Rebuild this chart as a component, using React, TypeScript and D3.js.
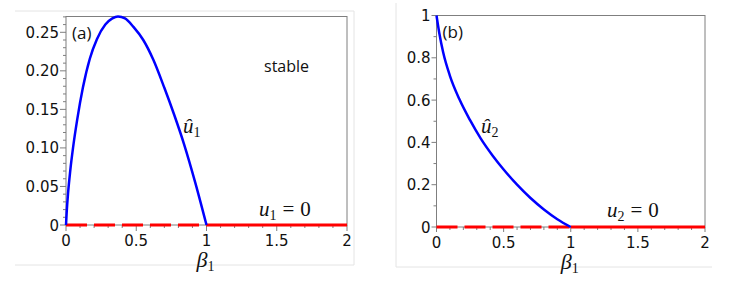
import * as d3 from "d3";

// beta_1 axis
const betaTicks = [0, 0.5, 1, 1.5, 2];

// panel (a): u1 axis ticks and the non-trivial branch u^_1(beta_1)
const u1Ticks = [0, 0.05, 0.1, 0.15, 0.2, 0.25];
const u1TickLabels = ["0", "0.05", "0.10", "0.15", "0.20", "0.25"];
const u1HatBeta = [0, 0.005, 0.015, 0.03, 0.05, 0.08, 0.12, 0.17, 0.22, 0.28, 0.33, 0.37, 0.42, 0.48, 0.55, 0.62, 0.7, 0.77, 0.84, 0.92, 1.0];
const u1HatVal = [0, 0.017, 0.042, 0.07, 0.1, 0.137, 0.178, 0.216, 0.241, 0.26, 0.268, 0.2705, 0.268, 0.257, 0.24, 0.215, 0.178, 0.143, 0.105, 0.055, 0];

// panel (b): u2 axis ticks and the branch u^_2(beta_1)
const u2Ticks = [0, 0.2, 0.4, 0.6, 0.8, 1];
const u2TickLabels = ["0", "0.2", "0.4", "0.6", "0.8", "1"];
const u2HatBeta = [0, 0.02, 0.05, 0.1, 0.17, 0.25, 0.33, 0.42, 0.5, 0.6, 0.7, 0.8, 0.9, 1.0];
const u2HatVal = [1, 0.92, 0.825, 0.715, 0.605, 0.505, 0.418, 0.336, 0.272, 0.2, 0.137, 0.083, 0.037, 0];

// trivial branch u = 0: unstable (dashed) up to 1, stable after
const unstableBeta = [0, 1];
const stableBeta = [1, 2];

type Pt = [number, number];

interface PanelProps {
  left: number;
  right: number;
  top: number;
  bottom: number;
  yMax: number;
  yTicks: number[];
  yLabels: string[];
  yMinor: number;
  hatBeta: number[];
  hatVal: number[];
  tag: string;
  idx: string;
  hatPos: Pt;
  zeroPos: Pt;
  tickLen: number;
}

const mathFont = "'Liberation Serif', 'DejaVu Serif', serif";
const tickFont = "'DejaVu Sans', sans-serif";
const noteFont = "'Open Sans', 'DejaVu Sans', sans-serif";

function Panel(p: PanelProps) {
  const x = d3.scaleLinear().domain([0, 2]).range([p.left, p.right]);
  const y = d3.scaleLinear().domain([0, p.yMax]).range([p.bottom, p.top]);
  const line = d3
    .line<Pt>()
    .x((d) => x(d[0]))
    .y((d) => y(d[1]))
    .curve(d3.curveMonotoneX);
  const hat: Pt[] = p.hatBeta.map((b, i) => [b, p.hatVal[i]]);
  const flat = (bs: number[]) => line(bs.map((b) => [b, 0] as Pt)) || "";

  const xMinor = d3.range(0, 2.0001, 0.1).filter((v) => !betaTicks.some((t) => Math.abs(t - v) < 1e-6));
  const yMinor = d3
    .range(0, p.yMax + 1e-9, p.yMinor)
    .filter((v) => !p.yTicks.some((t) => Math.abs(t - v) < 1e-6));
  const axisCol = "#7f7f7f";
  const cx = (p.left + p.right) / 2;

  return (
    <g>
      <rect x={p.left} y={p.top} width={p.right - p.left} height={p.bottom - p.top} fill="none" stroke={axisCol} strokeWidth={1} />
      {/* y ticks */}
      {p.yTicks.map((t, i) => (
        <g key={"y" + i}>
          <line x1={p.left - p.tickLen} x2={p.left} y1={y(t)} y2={y(t)} stroke={axisCol} />
          <text x={p.left - p.tickLen - 1} y={y(t) + 5.5} textAnchor="end" fontFamily={tickFont} fontSize={15} fill="#111">
            {p.yLabels[i]}
          </text>
        </g>
      ))}
      {yMinor.map((t, i) => (
        <line key={"ym" + i} x1={p.left - 3} x2={p.left} y1={y(t)} y2={y(t)} stroke={axisCol} />
      ))}
      {/* x ticks */}
      {betaTicks.map((t, i) => (
        <g key={"x" + i}>
          <line x1={x(t)} x2={x(t)} y1={p.bottom} y2={p.bottom + p.tickLen} stroke={axisCol} />
          <text x={x(t)} y={p.bottom + 20.5} textAnchor="middle" fontFamily={tickFont} fontSize={15} fill="#111">
            {String(t)}
          </text>
        </g>
      ))}
      {xMinor.map((t, i) => (
        <line key={"xm" + i} x1={x(t)} x2={x(t)} y1={p.bottom} y2={p.bottom + 3} stroke={axisCol} />
      ))}
      {/* curves */}
      <path d={flat(unstableBeta)} fill="none" stroke="#ff0000" strokeWidth={3} strokeDasharray="21 7" />
      <path d={flat(stableBeta)} fill="none" stroke="#ff0000" strokeWidth={3} />
      <path d={line(hat) || ""} fill="none" stroke="#0000ff" strokeWidth={2.5} />
      {/* labels */}
      <text x={p.left + 6} y={p.top + 22} fontFamily={noteFont} fontSize={17} fill="#111">
        {p.tag}
      </text>
      <text x={p.hatPos[0]} y={p.hatPos[1]} fontFamily={mathFont} fontStyle="italic" fontSize={21} fill="#111">
        {"\u00fb"}
        <tspan fontStyle="normal" fontSize={14} dy={4}>{p.idx}</tspan>
      </text>
      <text x={p.zeroPos[0]} y={p.zeroPos[1]} fontFamily={mathFont} fontSize={21} fill="#111">
        <tspan fontStyle="italic">u</tspan>
        <tspan fontSize={14} dy={4}>{p.idx}</tspan>
        <tspan dy={-4} dx={6}>=</tspan>
        <tspan dx={6}>0</tspan>
      </text>
      <text x={cx - 10} y={p.bottom + 42} fontFamily={mathFont} fontSize={22} fill="#111">
        <tspan fontStyle="italic">{"\u03b2"}</tspan>
        <tspan fontSize={14} dy={4}>1</tspan>
      </text>
    </g>
  );
}

export default function App() {
  return (
    <svg width={736} height={282} style={{ position: "absolute", left: 0, top: 0, background: "#fff" }}>
      <rect width={736} height={282} fill="#fff" />
      {/* faint outlines of the two figure images */}
      <path d="M15,11H354V265H15" fill="none" stroke="#e4e4e4" />
      <path d="M396,3V267H712" fill="none" stroke="#e4e4e4" />
      <Panel
        left={66}
        right={347}
        top={16.5}
        bottom={225}
        yMax={0.2705}
        yTicks={u1Ticks}
        yLabels={u1TickLabels}
        yMinor={0.01}
        hatBeta={u1HatBeta}
        hatVal={u1HatVal}
        tag="(a)"
        idx="1"
        hatPos={[183, 133]}
        zeroPos={[259, 216]}
        tickLen={6}
      />
      <text x={264} y={72} fontFamily={noteFont} fontSize={16} fill="#111">
        stable
      </text>
      <Panel
        left={436.5}
        right={705}
        top={15.5}
        bottom={227}
        yMax={1}
        yTicks={u2Ticks}
        yLabels={u2TickLabels}
        yMinor={0.1}
        hatBeta={u2HatBeta}
        hatVal={u2HatVal}
        tag="(b)"
        idx="2"
        hatPos={[481, 133]}
        zeroPos={[607, 217]}
        tickLen={5}
      />
    </svg>
  );
}
